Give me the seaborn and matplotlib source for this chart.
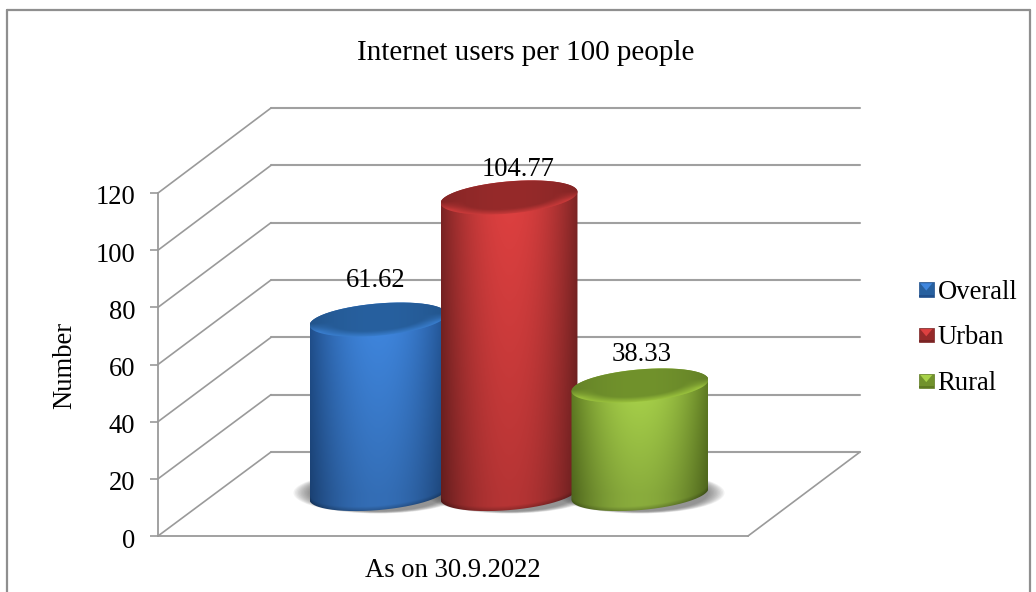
import numpy as np
import pandas as pd
import seaborn as sns
import matplotlib
matplotlib.use("Agg")
import matplotlib.pyplot as plt
from matplotlib.lines import Line2D
from matplotlib.patches import Patch, PathPatch, Polygon, Rectangle, Ellipse
from matplotlib.path import Path
from matplotlib.legend_handler import HandlerBase
from matplotlib.colors import to_rgb
from matplotlib.transforms import ScaledTranslation

# ---- data ----
period = ["As on 30.9.2022"]
series = ["Overall", "Urban", "Rural"]
values = [61.62, 104.77, 38.33]
y_ticks = [0, 20, 40, 60, 80, 100, 120]
title = "Internet users per 100 people"
y_label = "Number"

# ---- style ----
centre_col = ["#3f86de", "#de4040", "#a8d24a"]
edge_col = ["#204f8c", "#7a2424", "#5e7a22"]
cap_col = ["#27609f", "#962a2a", "#71922c"]
rim_col = ["#3a7fd0", "#cf3c3c", "#9cc43e"]
label_shift = [(-2, 39), (9, 28), (2, 31)]   # pixels above the cap
GREY = "#9a9a9a"
W, H = 1036, 592
FS = 19.2
PX = 72 / 100

sns.set_theme(style="white", rc={"axes.facecolor": "none", "figure.facecolor": "white"})
plt.rcParams["font.family"] = ["Liberation Serif"]
plt.rcParams["text.color"] = "black"

fig = plt.figure(figsize=(W / 100, H / 100), dpi=100)


def box(x0, y0, x1, y1):
    return [x0 / W, 1 - y1 / H, (x1 - x0) / W, (y1 - y0) / H]


ax_back = fig.add_axes(box(271, 108, 860, 452), zorder=0)
ax_front = fig.add_axes(box(158, 193, 748, 536), zorder=1)
ax_mid = fig.add_axes(box(214, 154.4, 804, 533.6), zorder=2)

# outer frame (its bottom edge lies below the picture)
for xs, ys in [((7, 7), (10, 592)), ((7, 1030), (10, 10)), ((1030, 1030), (10, 592))]:
    fig.add_artist(Line2D([x / W for x in xs], [1 - y / H for y in ys],
                          color="#8f8f8f", lw=1.6))

# back wall
ax_back.set_ylim(0, 120)
ax_back.set_xlim(0, 1)
ax_back.set_yticks(y_ticks)
ax_back.set_xticks([])
ax_back.tick_params(left=False, labelleft=False)
ax_back.grid(axis="y", color="#a0a0a0", lw=1.5)
ax_back.yaxis.grid(True)
for s in ax_back.spines.values():
    s.set_visible(False)
for gl in ax_back.get_ygridlines():
    gl.set_clip_on(False)

# front plane with axis labels
ax_front.set_ylim(0, 120)
ax_front.set_xlim(-0.5, 0.5)
ax_front.set_yticks(y_ticks)
ax_front.set_xticks([0])
ax_front.set_xticklabels(period)
ax_front.set_ylabel(y_label, fontsize=FS, color="black")
ax_front.yaxis.set_label_coords((77 - 158) / 590, (536 - 365) / 343)
ax_front.tick_params(axis="y", length=8 * PX, width=1.2, color=GREY, labelsize=FS,
                     labelcolor="black", pad=15 * PX, left=True)
ax_front.tick_params(axis="x", length=0, labelsize=FS, labelcolor="black", pad=22 * PX)
down = ScaledTranslation(0, -2 / 100, fig.dpi_scale_trans)
for lab in ax_front.get_yticklabels():
    lab.set_transform(lab.get_transform() + down)
sns.despine(ax=ax_front)
for k in ("left", "bottom"):
    ax_front.spines[k].set_color(GREY)
    ax_front.spines[k].set_linewidth(1.3)

# side wall and floor edges joining the front plane to the back wall
for v in y_ticks:
    a = ax_front.transData.transform((-0.5, v))
    b = ax_back.transData.transform((0, v))
    ax_back.add_line(Line2D([a[0], b[0]], [a[1], b[1]], color=GREY, lw=1.2,
                            transform=None, clip_on=False))
a = ax_front.transData.transform((0.5, 0))
b = ax_back.transData.transform((1, 0))
ax_back.add_line(Line2D([a[0], b[0]], [a[1], b[1]], color=GREY, lw=1.2,
                        transform=None, clip_on=False))

# bars
df = pd.DataFrame({"period": period * len(series), "series": series, "value": values})
sns.barplot(data=df, x="period", y="value", hue="series", hue_order=series, ax=ax_mid,
            width=0.666, gap=0, palette=centre_col, legend=False, saturation=1)
ax_mid.set_xlim(-0.5, 0.5)
ax_mid.set_ylim(-14, 120)
ax_mid.set_axis_off()

B = 5.7    # half height of an end ellipse, value units
K = 2.0    # tilt of an end ellipse, value units
pad = 3 / 590

bars = list(ax_mid.patches)
for i, bar in enumerate(bars):
    bar.set_x(bar.get_x() - pad)
    bar.set_width(bar.get_width() + 2 * pad)
    bar.set_visible(False)
    x0, w, v = bar.get_x(), bar.get_width(), bar.get_height()
    cx, a = x0 + w / 2, w / 2
    z = 3 + i * 3
    c0, c1, capc, rim = map(lambda c: np.array(to_rgb(c)), (centre_col[i], edge_col[i], cap_col[i], rim_col[i]))

    # soft floor shadow
    for j in range(12):
        f = j / 11
        ax_mid.add_patch(Ellipse((cx, 0.4), 2 * a + (1 - f) * 32 / 590, 2 * (B + 0.9 + 0.7 * (1 - f)),
                                 angle=0, facecolor="#505050", edgecolor="none", alpha=0.07, zorder=2.5))

    t = np.linspace(0, 2 * np.pi, 181)
    top_half = np.linspace(np.pi, 0, 91)
    low_half = np.linspace(0, -np.pi, 91)
    sil = np.r_[np.c_[cx + a * np.cos(top_half), v + B * np.sin(top_half) + K * np.cos(top_half)],
                np.c_[cx + a * np.cos(low_half), B * np.sin(low_half) + K * np.cos(low_half)]]
    sil_patch = PathPatch(Path(np.r_[sil, sil[:1]]), transform=ax_mid.transData,
                          facecolor="none", edgecolor="none")

    # body shading
    ny, nx = 300, 300
    vmin, vmax = -B - K - 1, v + B + K + 1
    uu = np.linspace(-1, 1, nx)
    vv = np.linspace(vmax, vmin, ny)
    U, V = np.meshgrid(uu, vv)
    f = np.clip(np.abs(U), 0, 1) ** 2.0
    col = c0[None, None, :] * (1 - f[..., None]) + c1[None, None, :] * f[..., None]
    fade = 1 - 0.18 * np.clip((v - V) / max(v, 1), 0, 1)
    col = col * fade[..., None]
    low_edge = -B * np.sqrt(np.clip(1 - U ** 2, 0, 1)) + K * U
    near = np.clip(1 - (V - low_edge) / 1.6, 0, 1)[..., None]
    col = col * (1 - 0.22 * near)
    im = ax_mid.imshow(np.clip(col, 0, 1), extent=[x0, x0 + w, vmin, vmax], aspect="auto",
                       zorder=z, interpolation="bilinear")
    ax_mid.add_patch(sil_patch)
    sil_patch.set_zorder(z)
    im.set_clip_path(sil_patch)

    # end cap shading
    cap_xy = np.c_[cx + a * np.cos(t), v + B * np.sin(t) + K * np.cos(t)]
    cap_patch = PathPatch(Path(cap_xy), transform=ax_mid.transData, facecolor="none", edgecolor="none")
    W_ = (V - v - K * U) / B
    R = np.sqrt(U ** 2 + W_ ** 2)
    glow = np.clip((R - 0.66) / 0.34, 0, 1) * np.clip(-W_ / 0.5 + 0.2, 0, 1)
    dark = 0.88 + 0.12 * (1 - np.abs(U) ** 2)
    cap = capc[None, None, :] * dark[..., None]
    cap = cap * (1 - glow[..., None]) + rim[None, None, :] * glow[..., None]
    im2 = ax_mid.imshow(np.clip(cap, 0, 1), extent=[x0, x0 + w, vmin, vmax], aspect="auto",
                        zorder=z + 1, interpolation="bilinear")
    ax_mid.add_patch(cap_patch)
    cap_patch.set_zorder(z + 1)
    im2.set_clip_path(cap_patch)

ax_mid.set_xlim(-0.5, 0.5)
ax_mid.set_ylim(-14, 120)

# data labels
for bar, val, (dx, dy) in zip(bars, values, label_shift):
    ax_mid.annotate(f"{val:.2f}", (bar.get_x() + bar.get_width() / 2, val),
                    xytext=(dx * PX, dy * PX), textcoords="offset points",
                    ha="center", va="center", fontsize=FS, color="black",
                    annotation_clip=False, zorder=30)

# title
fig.text(526 / W, 1 - 60 / H, title, ha="center", va="baseline", fontsize=21, color="black")


# legend with bevelled keys
class BevelKey(HandlerBase):
    def create_artists(self, legend, orig, xd, yd, width, height, fontsize, trans):
        s = 14.5 * PX
        x0, y0 = -xd, -yd + (height - s) / 2
        i = series.index(orig.get_label())
        base = Rectangle((x0, y0), s, s, facecolor=cap_col[i], edgecolor=edge_col[i], lw=0.5, transform=trans)
        tri = Polygon([(x0 + s * .08, y0 + s * .92), (x0 + s * .92, y0 + s * .92), (x0 + s * .5, y0 + s * .42)],
                      facecolor=centre_col[i], edgecolor="none", transform=trans)
        low = Rectangle((x0, y0), s, s * .14, facecolor=edge_col[i], edgecolor="none", transform=trans)
        return [base, tri, low]


handles = [Patch(label=s) for s in series]
fig.legend(handles=handles, labels=series, loc="center left", bbox_to_anchor=(919 / W, 1 - 338 / H),
           frameon=False, fontsize=FS, labelcolor="black",
           handler_map={Patch: BevelKey()}, handlelength=0.55, handletextpad=0.15,
           labelspacing=0.78, borderpad=0, borderaxespad=0)

fig.savefig("out.png", dpi=100)
